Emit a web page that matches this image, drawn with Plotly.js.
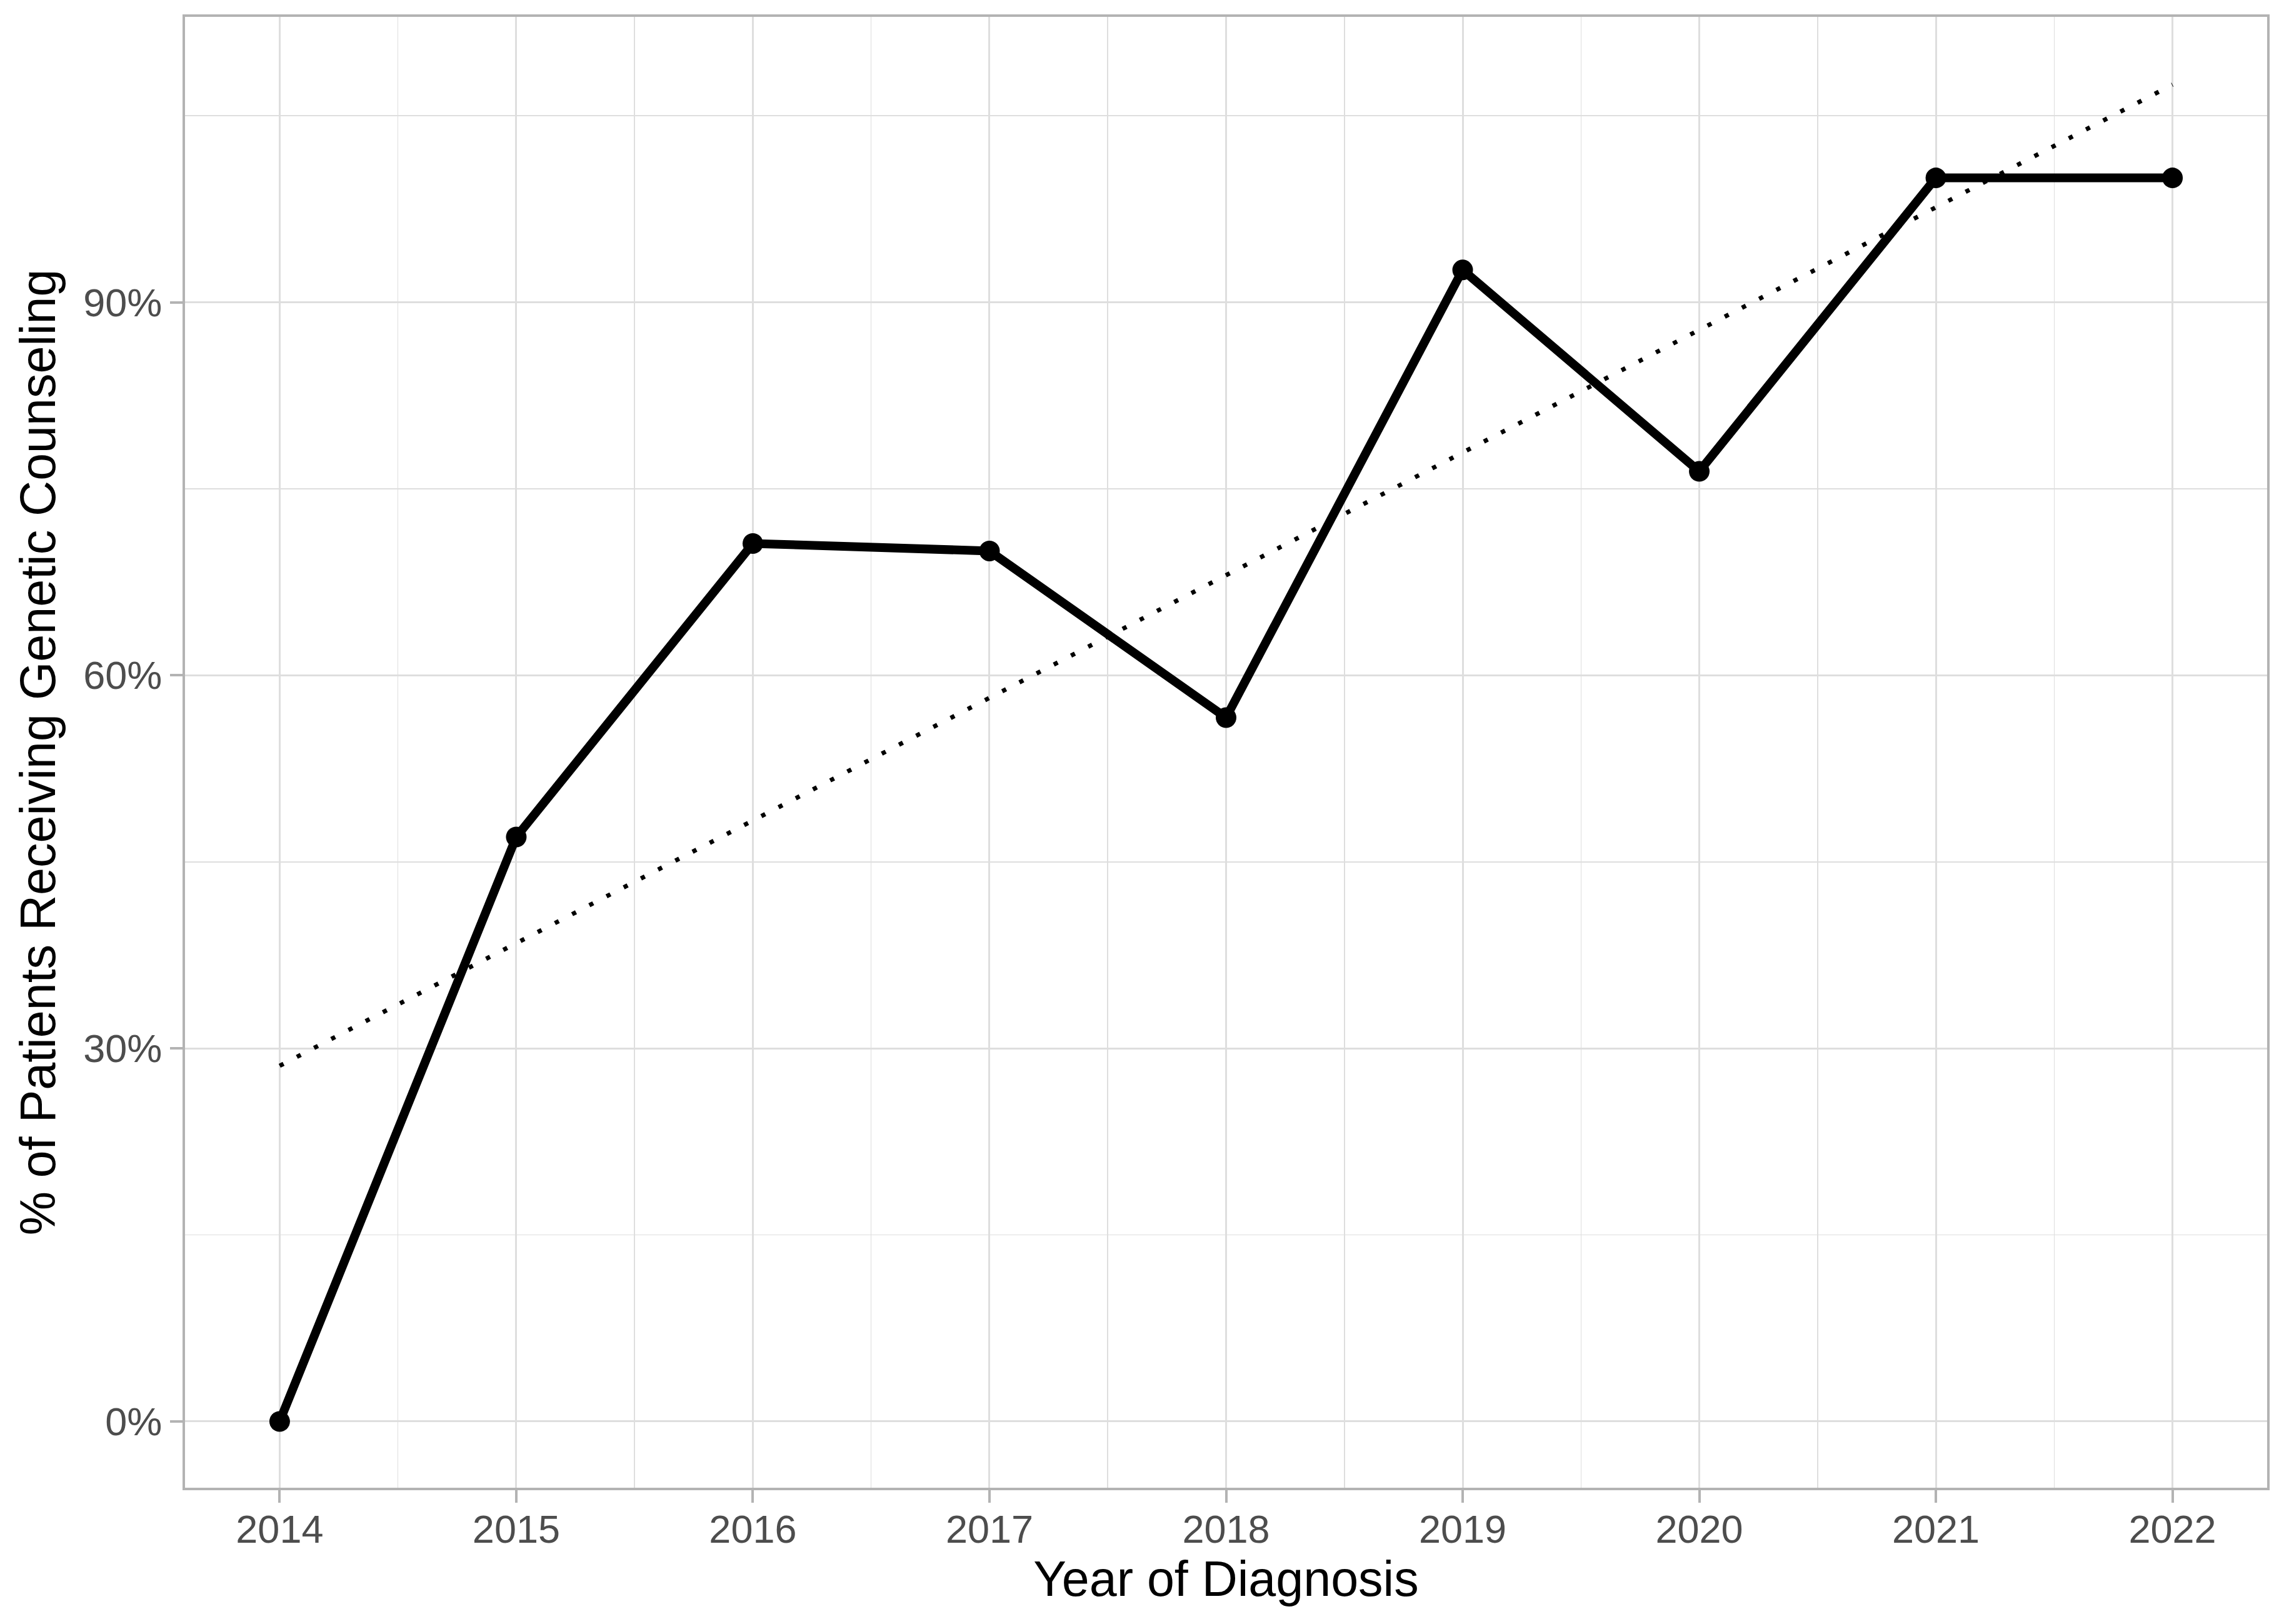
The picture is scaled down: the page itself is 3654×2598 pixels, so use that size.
<!DOCTYPE html>
<html>
<head>
<meta charset="utf-8">
<script src="https://cdn.plot.ly/plotly-3.0.1.min.js"></script>
<style>
html,body{margin:0;padding:0;background:#fff;}
#chart{width:3654px;height:2598px;}
</style>
</head>
<body>
<div id="chart"></div>
<script>
// Data
const years = [2014, 2015, 2016, 2017, 2018, 2019, 2020, 2021, 2022];
const pctCounseling = [0, 47.0, 70.6, 70.0, 56.6, 92.6, 76.4, 100, 100];
const trendYears = [2014, 2022];
const trendPct = [28.6, 107.5];
const yTickVals = [0, 30, 60, 90];
const yTickText = ['0%', '30%', '60%', '90%'];
const xTickText = ['2014', '2015', '2016', '2017', '2018', '2019', '2020', '2021', '2022'];

const FONT = 'Liberation Sans, Arial, sans-serif';
const GRID = '#DEDEDE';
const BORDER = '#B3B3B3';

const traces = [
  {
    x: years, y: pctCounseling, type: 'scatter', mode: 'lines+markers',
    line: {color: '#000000', width: 14},
    marker: {color: '#000000', size: 33},
    hoverinfo: 'skip', showlegend: false
  },
  {
    x: trendYears, y: trendPct, type: 'scatter', mode: 'lines',
    line: {color: '#000000', width: 7, dash: '7px,24px'},
    hoverinfo: 'skip', showlegend: false
  }
];

const layout = {
  width: 3654, height: 2598,
  margin: {l: 296, r: 27, t: 27, b: 218, pad: 0},
  paper_bgcolor: '#ffffff', plot_bgcolor: '#ffffff',
  showlegend: false,
  font: {family: FONT, color: '#4D4D4D', size: 63},
  xaxis: {
    range: [2013.6, 2022.4],
    tickmode: 'array', tickvals: years, ticktext: xTickText,
    ticks: 'outside', ticklen: 20, tickwidth: 4, tickcolor: BORDER,
    ticklabelstandoff: -12,
    tickfont: {family: FONT, size: 63, color: '#4D4D4D'},
    showgrid: true, gridcolor: GRID, gridwidth: 3,
    minor: {tickmode: 'linear', tick0: 2014.5, dtick: 1, showgrid: true, gridcolor: GRID, gridwidth: 1.5, ticks: ''},
    zeroline: false,
    showline: true, mirror: true, linecolor: BORDER, linewidth: 4,
    automargin: false,
    title: {text: 'Year of Diagnosis', font: {family: FONT, size: 79, color: '#000000'}, standoff: 16}
  },
  yaxis: {
    range: [-5.33, 112.95],
    tickmode: 'array', tickvals: yTickVals, ticktext: yTickText,
    ticks: 'outside', ticklen: 20, tickwidth: 4, tickcolor: BORDER,
    tickfont: {family: FONT, size: 63, color: '#4D4D4D'},
    showgrid: true, gridcolor: GRID, gridwidth: 3,
    minor: {tickmode: 'linear', tick0: 15, dtick: 30, showgrid: true, gridcolor: GRID, gridwidth: 1.5, ticks: ''},
    zeroline: false,
    showline: true, mirror: true, linecolor: BORDER, linewidth: 4,
    automargin: false,
    title: {text: '% of Patients Receiving Genetic Counseling', font: {family: FONT, size: 79, color: '#000000'}, standoff: 20}
  }
};

Plotly.newPlot('chart', traces, layout, {staticPlot: true, displayModeBar: false});
</script>
</body>
</html>
